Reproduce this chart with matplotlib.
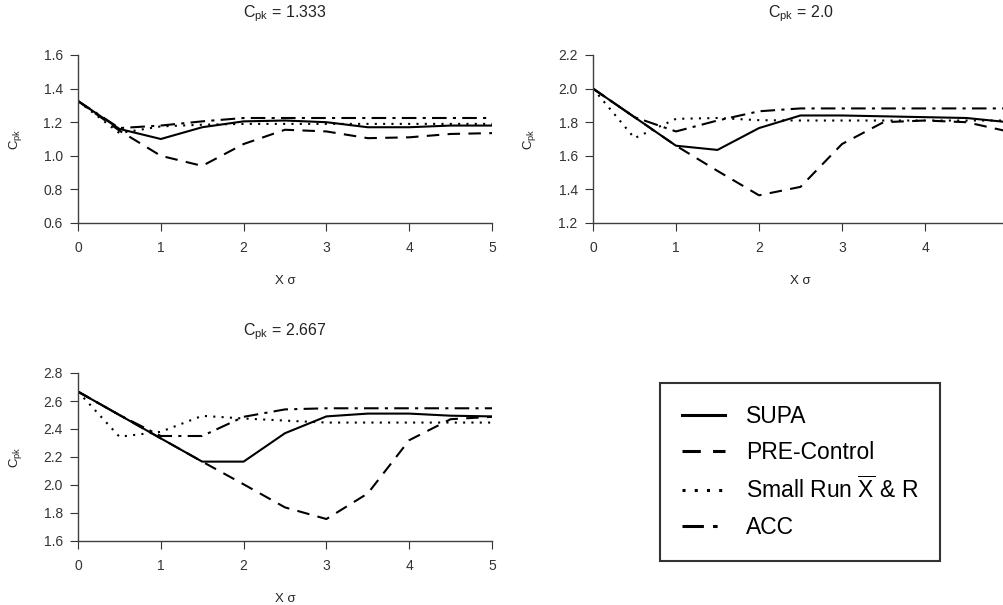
import numpy as np
import matplotlib
matplotlib.use("Agg")
import matplotlib.pyplot as plt

plt.rcParams['font.family'] = ['Liberation Sans', 'DejaVu Sans']
plt.rcParams['mathtext.default'] = 'regular'

# data
x_sigma = [0, 0.5, 1, 1.5, 2, 2.5, 3, 3.5, 4, 4.5, 5]

# Cpk = 1.333
supa_1 = [1.326, 1.16, 1.10, 1.17, 1.205, 1.21, 1.20, 1.17, 1.17, 1.18, 1.18]
pre_1 = [1.326, 1.15, 1.00, 0.94, 1.07, 1.155, 1.145, 1.105, 1.11, 1.13, 1.135]
small_1 = [1.326, 1.135, 1.175, 1.185, 1.19, 1.19, 1.19, 1.19, 1.19, 1.19, 1.19]
acc_1 = [1.326, 1.165, 1.18, 1.205, 1.225, 1.225, 1.225, 1.225, 1.225, 1.225, 1.225]

# Cpk = 2.0
supa_2 = [2.0, 1.83, 1.66, 1.635, 1.765, 1.84, 1.84, 1.835, 1.83, 1.825, 1.80]
pre_2 = [2.0, 1.83, 1.66, 1.51, 1.365, 1.415, 1.67, 1.80, 1.81, 1.80, 1.745]
small_2 = [2.0, 1.705, 1.82, 1.825, 1.812, 1.81, 1.81, 1.81, 1.81, 1.81, 1.81]
acc_2 = [2.0, 1.83, 1.745, 1.81, 1.865, 1.882, 1.882, 1.882, 1.882, 1.882, 1.882]

# Cpk = 2.667
supa_3 = [2.667, 2.50, 2.333, 2.167, 2.167, 2.37, 2.49, 2.51, 2.51, 2.495, 2.49]
pre_3 = [2.667, 2.50, 2.333, 2.167, 2.005, 1.84, 1.757, 1.94, 2.32, 2.47, 2.487]
small_3 = [2.667, 2.345, 2.38, 2.494, 2.475, 2.46, 2.446, 2.446, 2.446, 2.446, 2.446]
acc_3 = [2.667, 2.50, 2.35, 2.35, 2.487, 2.54, 2.548, 2.548, 2.548, 2.548, 2.548]

titles = ['1.333', '2.0', '2.667']
ylims = [(0.6, 1.6), (1.2, 2.2), (1.6, 2.8)]
series = [(supa_1, pre_1, small_1, acc_1),
          (supa_2, pre_2, small_2, acc_2),
          (supa_3, pre_3, small_3, acc_3)]

labels = ['SUPA', 'PRE-Control', r'Small Run $\overline{X}$ & R', 'ACC']
styles = ['-', (0, (6, 4)), (0, (1, 3)), (0, (7, 3, 1.5, 3))]

W, H = 1004, 605
fig = plt.figure(figsize=(W / 100, H / 100), dpi=100)

# axes boxes in pixels: left, top, right, bottom
boxes = [(78, 55, 492, 223), (593, 55, 1008, 223), (78, 373, 492, 541)]

handles = []
for i, (l, t, r, b) in enumerate(boxes):
    ax = fig.add_axes([l / W, 1 - b / H, (r - l) / W, (b - t) / H])
    for k, y in enumerate(series[i]):
        ln, = ax.plot(x_sigma, y, color='black', linestyle=styles[k], linewidth=1.5)
        if i == 0:
            handles.append(ln)
    ax.set_xlim(0, 5)
    ax.set_ylim(*ylims[i])
    ax.set_xticks(range(6))
    ax.set_yticks(np.arange(ylims[i][0], ylims[i][1] + 0.01, 0.2))
    ax.yaxis.set_major_formatter(matplotlib.ticker.FormatStrFormatter('%.1f'))
    for s in ['top', 'right']:
        ax.spines[s].set_visible(False)
    for s in ['left', 'bottom']:
        ax.spines[s].set_color('#404040')
        ax.spines[s].set_linewidth(1.0)
    ax.tick_params(colors='#333333', labelsize=10, length=6, pad=5)
    ax.tick_params(axis='x', pad=7)
    cx = (l + r) / 2 / W
    fig.text(cx, 1 - (t - 41) / H, r'C$_{pk}$ = ' + titles[i], ha='center', va='center',
             fontsize=11.5, color='#222222')
    fig.text(cx, 1 - (b + 58) / H, 'X σ', ha='center', va='center', fontsize=9.5, color='#222222')
    fig.text(15 / W if l < 300 else (l - 63) / W, 1 - (t + b) / 2 / H, r'C$_{pk}$',
             rotation=90, ha='center', va='center', fontsize=9.5, color='#222222')

leg = fig.legend(handles, labels, loc='center',
                 bbox_to_anchor=(800 / W, 1 - 472 / H),
                 prop={'size': 16.5},
                 frameon=True, fancybox=False, edgecolor='black',
                 handlelength=1.9, handletextpad=0.9, labelspacing=0.55,
                 borderpad=0.95, borderaxespad=0)
leg.get_frame().set_linewidth(1.5)
for ln in leg.get_lines():
    ln.set_linewidth(2.2)

fig.savefig('out.png', dpi=100)
